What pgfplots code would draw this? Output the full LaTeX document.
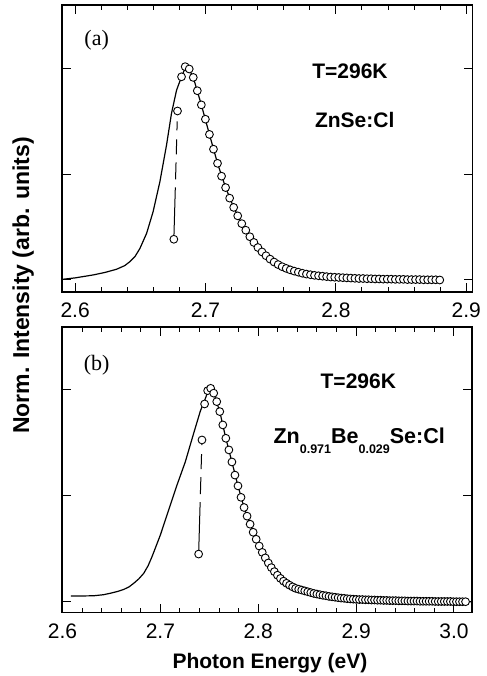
\documentclass[border=0pt]{standalone}
\usepackage{fontspec}
\setmainfont{Liberation Sans}
\newfontfamily\timesfont{Liberation Serif}
\usepackage{pgfplots}
\pgfplotsset{compat=1.18}

\newcommand{\fs}[1]{\fontsize{#1bp}{#1bp}\selectfont}
\newcommand{\sub}[1]{\raisebox{-10bp}{\fs{12.5}\bfseries #1}}

\pgfplotsset{
  panel/.style={
    scale only axis,
    anchor=south west,
    axis line style={line width=1.2bp},
    tick align=inside,
    major tick length=9bp,
    minor tick length=5bp,
    every tick/.append style={black, line width=1bp},
    minor x tick num=4,
    ytick={0,0.5,1},
    yticklabels={},
    xticklabel style={font=\fs{21}, anchor=base, yshift=-26bp},
    /pgf/number format/fixed,
    /pgf/number format/fixed zerofill,
    /pgf/number format/precision=1,
    /pgf/number format/assume math mode=true,
  },
  curve/.style={black, line width=1.2bp, no marks},
  gap/.style={black, line width=1bp, no marks,
    dash pattern=on 52bp off 8bp on 17bp off 8bp on 15bp off 9bp on 9bp off 40bp},
  circ/.style={only marks, mark=*, mark size=3.9bp,
    mark options={draw=black, fill=white, line width=0.9bp}},
}

\begin{document}
\begin{tikzpicture}
\useasboundingbox (0,0) rectangle (487bp,676bp);

% (a) ZnSe:Cl
\begin{axis}[panel, at={(62bp,384bp)}, width=410.5bp, height=287bp,
  xmin=2.5899, xmax=2.9048, ymin=-0.0569, ymax=1.3033,
  xtick={2.6,2.7,2.8,2.9}]
\addplot[curve] coordinates {
 (2.5900,0.003) (2.6000,0.010) (2.6139,0.024) (2.6230,0.036) (2.6318,0.051)
 (2.6380,0.068) (2.6420,0.087) (2.6460,0.112) (2.6497,0.150) (2.6548,0.221)
 (2.6598,0.324) (2.6650,0.466) (2.6701,0.640) (2.6739,0.790) (2.6778,0.900)
 (2.6816,0.963) (2.6844,1.005) (2.6875,0.998) (2.6906,0.960) (2.6968,0.830)
 (2.7030,0.690) (2.7092,0.553) (2.7154,0.438) (2.7216,0.344) (2.7278,0.267)
 (2.7340,0.205) (2.7402,0.154) (2.7464,0.115) (2.7526,0.085) (2.7588,0.063)
 (2.7650,0.048) (2.7743,0.032) (2.7836,0.022) (2.7960,0.014) (2.8115,0.009)
 (2.8301,0.005) (2.8518,0.003) (2.8797,0.000)
};
\addplot[gap] coordinates {(2.6757,0.193) (2.6785,0.801)};
\addplot[circ] coordinates {
 (2.6757,0.193) (2.6785,0.801) (2.6816,0.963) (2.6844,1.011) (2.6875,1.000)
 (2.6906,0.960) (2.6937,0.897) (2.6968,0.830) (2.6999,0.762) (2.7030,0.690)
 (2.7061,0.620) (2.7092,0.553) (2.7123,0.492) (2.7154,0.438) (2.7185,0.388)
 (2.7216,0.344) (2.7247,0.304) (2.7278,0.267) (2.7309,0.236) (2.7340,0.205)
 (2.7371,0.178) (2.7402,0.154) (2.7433,0.133) (2.7464,0.115) (2.7495,0.099)
 (2.7526,0.085) (2.7557,0.073) (2.7588,0.063) (2.7619,0.055) (2.7650,0.048)
 (2.7681,0.042) (2.7712,0.037) (2.7743,0.032) (2.7774,0.028) (2.7805,0.025)
 (2.7836,0.022) (2.7867,0.020) (2.7898,0.018) (2.7929,0.016) (2.7960,0.014)
 (2.7991,0.013) (2.8022,0.012) (2.8053,0.011) (2.8084,0.010) (2.8115,0.009)
 (2.8146,0.008) (2.8177,0.007) (2.8208,0.007) (2.8239,0.006) (2.8270,0.006)
 (2.8301,0.005) (2.8332,0.005) (2.8363,0.004) (2.8394,0.004) (2.8425,0.004)
 (2.8456,0.003) (2.8487,0.003) (2.8518,0.003) (2.8549,0.002) (2.8580,0.002)
 (2.8611,0.002) (2.8642,0.002) (2.8673,0.001) (2.8704,0.001) (2.8735,0.001)
 (2.8766,0.001) (2.8797,0.000)
};
\end{axis}

% (b) ZnBeSe:Cl
\begin{axis}[panel, at={(62bp,63.3bp)}, width=410bp, height=285.7bp,
  xmin=2.5995, xmax=3.0184, ymin=-0.052, ymax=1.2976,
  xtick={2.6,2.7,2.8,2.9,3.0}]
\addplot[curve] coordinates {
 (2.6085,0.027) (2.6200,0.027) (2.6319,0.028) (2.6420,0.033) (2.6490,0.040)
 (2.6560,0.048) (2.6626,0.058) (2.6680,0.070) (2.6728,0.087) (2.6780,0.108)
 (2.6830,0.134) (2.6875,0.170) (2.6915,0.213) (2.7000,0.315) (2.7085,0.433)
 (2.7170,0.551) (2.7255,0.661) (2.7340,0.795) (2.7408,0.900) (2.7452,0.950)
 (2.7483,0.990) (2.7514,1.003) (2.7545,0.985) (2.7607,0.898) (2.7669,0.772)
 (2.7731,0.660) (2.7793,0.547) (2.7855,0.445) (2.7917,0.366) (2.7979,0.295)
 (2.8041,0.233) (2.8103,0.183) (2.8165,0.142) (2.8227,0.110) (2.8289,0.087)
 (2.8351,0.070) (2.8444,0.055) (2.8537,0.043) (2.8630,0.033) (2.8754,0.023)
 (2.8909,0.014) (2.9095,0.009) (2.9312,0.006) (2.9560,0.003) (2.9870,0.001)
 (3.0184,0.000)
};
\addplot[gap] coordinates {(2.7391,0.225) (2.7425,0.764)};
\addplot[circ] coordinates {
 (2.7391,0.225) (2.7425,0.764) (2.7452,0.934) (2.7483,0.997) (2.7514,1.008)
 (2.7545,0.985) (2.7576,0.945) (2.7607,0.898) (2.7638,0.835) (2.7669,0.772)
 (2.7700,0.717) (2.7731,0.660) (2.7762,0.598) (2.7793,0.547) (2.7824,0.493)
 (2.7855,0.445) (2.7886,0.404) (2.7917,0.366) (2.7948,0.328) (2.7979,0.295)
 (2.8010,0.263) (2.8041,0.233) (2.8072,0.207) (2.8103,0.183) (2.8134,0.161)
 (2.8165,0.142) (2.8196,0.125) (2.8227,0.110) (2.8258,0.097) (2.8289,0.087)
 (2.8320,0.078) (2.8351,0.070) (2.8382,0.063) (2.8413,0.059) (2.8444,0.055)
 (2.8475,0.051) (2.8506,0.047) (2.8537,0.043) (2.8568,0.039) (2.8599,0.036)
 (2.8630,0.033) (2.8661,0.030) (2.8692,0.028) (2.8723,0.025) (2.8754,0.023)
 (2.8785,0.021) (2.8816,0.019) (2.8847,0.017) (2.8878,0.016) (2.8909,0.014)
 (2.8940,0.013) (2.8971,0.012) (2.9002,0.011) (2.9033,0.010) (2.9064,0.010)
 (2.9095,0.009) (2.9126,0.009) (2.9157,0.008) (2.9188,0.008) (2.9219,0.007)
 (2.9250,0.007) (2.9281,0.006) (2.9312,0.006) (2.9343,0.005) (2.9374,0.005)
 (2.9405,0.005) (2.9436,0.004) (2.9467,0.004) (2.9498,0.004) (2.9529,0.003)
 (2.9560,0.003) (2.9591,0.003) (2.9622,0.003) (2.9653,0.002) (2.9684,0.002)
 (2.9715,0.002) (2.9746,0.002) (2.9777,0.002) (2.9808,0.001) (2.9839,0.001)
 (2.9870,0.001) (2.9901,0.001) (2.9932,0.001) (2.9963,0.001) (2.9994,0.000)
 (3.0025,0.000) (3.0056,0.000) (3.0087,0.000) (3.0118,0.000)
};
\end{axis}

% panel texts
\node[font=\fs{22}\timesfont] at (96.7bp,636bp) {(a)};
\node[anchor=base, font=\fs{21}\bfseries] at (350bp,597.7bp) {T=296K};
\node[anchor=base, font=\fs{21}\bfseries] at (354.7bp,548.3bp) {ZnSe:Cl};
\node[font=\fs{22}\timesfont] at (96.7bp,311bp) {(b)};
\node[anchor=base, font=\fs{21}\bfseries] at (358.3bp,287.7bp) {T=296K};
\node[anchor=base, font=\fs{21.5}\bfseries] at (359.2bp,232.7bp)
  {Zn\sub{0.971}Be\sub{0.029}Se:Cl};

% shared axis labels
\node[rotate=90, font=\fs{23}\bfseries] at (23.3bp,390.5bp)
  {Norm. Intensity (arb. units)};
\node[anchor=base, font=\fs{21}\bfseries] at (270bp,7.7bp) {Photon Energy (eV)};
\end{tikzpicture}
\end{document}
